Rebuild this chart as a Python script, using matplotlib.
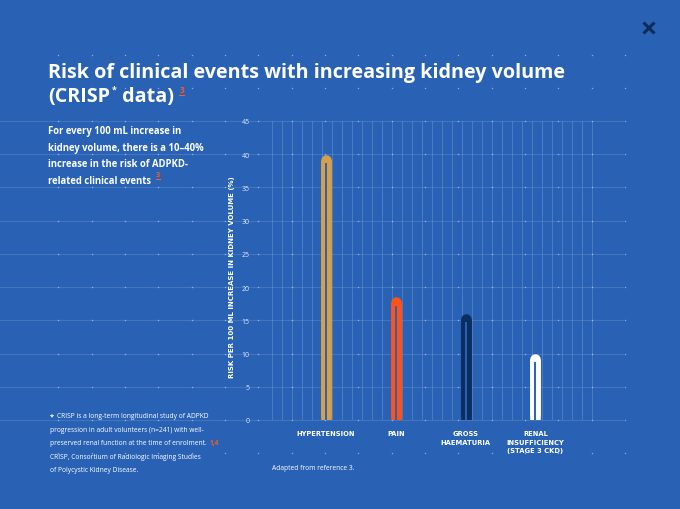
import numpy as np
import matplotlib
matplotlib.use("Agg")
import matplotlib.pyplot as plt

# data
categories = ["HYPERTENSION", "PAIN", "GROSS\nHAEMATURIA", "RENAL\nINSUFFICIENCY\n(STAGE 3 CKD)"]
risk = [40, 18.5, 16, 10]
bar_colors = ["#D6A049", "#FF5219", "#0C2D60", "#FFFFFF"]
yticks = [0, 5, 10, 15, 20, 25, 30, 35, 40, 45]

BG = "#2962B5"
ORANGE = "#FF5A1F"
W, H = 680, 510
FONT = ['Open Sans', 'DejaVu Sans']

plt.rcParams['font.family'] = FONT

fig = plt.figure(figsize=(6.8, 5.1), dpi=100, facecolor=BG)
renderer = fig.canvas.get_renderer()

# background layer in pixel coords (top-left origin)
bg = fig.add_axes([0, 0, 1, 1], zorder=0)
bg.set_xlim(0, W)
bg.set_ylim(H, 0)
bg.axis("off")
bg.set_facecolor(BG)


def fitted(x, y, s, width, size=10, **kw):
    # place text and scale its size so it spans `width` pixels
    t = bg.text(x, y, s, fontsize=size, va="baseline", **kw)
    w = t.get_window_extent(renderer).width
    t.set_fontsize(size * width / w)
    return t


def right_of(t, gap=0):
    return t.get_window_extent(renderer).x1 + gap


# dot grid
cols = 24.9 + 33.33 * np.arange(1, 19)
rows = 122 + 33.22 * np.arange(-2, 11)
gx, gy = np.meshgrid(cols, rows)
bg.scatter(gx.ravel(), gy.ravel(), s=1.1, color="#9db8e6", lw=0, alpha=0.8)

# close "X"
bg.plot([643.5, 654.5], [23.5, 34.5], color="#0E2C5A", lw=2.2, solid_capstyle="butt")
bg.plot([643.5, 654.5], [34.5, 23.5], color="#0E2C5A", lw=2.2, solid_capstyle="butt")

# title
t1 = fitted(48, 78, "Risk of clinical events with increasing kidney volume", 519,
            color="white", fontweight="bold")
tsize = t1.get_fontsize()
t2 = bg.text(48, 102, "(CRISP", color="white", fontsize=tsize, fontweight="bold",
             va="baseline")
t3 = bg.text(right_of(t2, 1.5), 93, "*", color="white", fontsize=tsize * 0.45,
             fontweight="bold", va="baseline")
t4 = bg.text(right_of(t3, 1), 102, " data)", color="white", fontsize=tsize,
             fontweight="bold", va="baseline")
x3 = right_of(t4, 5)
t5 = bg.text(x3, 93, "3", color=ORANGE, fontsize=tsize * 0.42, fontweight="bold",
             va="baseline")
bg.plot([x3, right_of(t5)], [95.5, 95.5], color=ORANGE, lw=0.8)

# intro paragraph
para = ["For every 100 mL increase in",
        "kidney volume, there is a 10\u201340%",
        "increase in the risk of ADPKD-",
        "related clinical events"]
p0 = fitted(48, 134, para[0], 135, color="white", fontweight="bold")
psize = p0.get_fontsize()
plines = [p0]
for k, line in enumerate(para[1:], start=1):
    plines.append(bg.text(48, 134 + 16.7 * k, line, color="white", fontsize=psize,
                          fontweight="bold", va="baseline"))
xp = right_of(plines[-1], 5)
ps = bg.text(xp, 177, "3", color=ORANGE, fontsize=psize * 0.75, fontweight="bold",
             va="baseline")
bg.plot([xp, right_of(ps)], [180, 180], color=ORANGE, lw=0.8)

# footnote
foot = ["CRISP is a long-term longitudinal study of ADPKD",
        "progression in adult volunteers (n=241) with well-",
        "preserved renal function at the time of enrolment.",
        "CRISP, Consortium of Radiologic Imaging Studies",
        "of Polycystic Kidney Disease."]
f0 = fitted(57, 418.3, foot[0], 152, color="white")
fsize = f0.get_fontsize()
bg.text(49.5, 418.3, "*", color="white", fontsize=fsize * 1.1, fontweight="bold",
        va="baseline")
flines = [f0]
for k, line in enumerate(foot[1:], start=1):
    flines.append(bg.text(50, 418.3 + 13.5 * k, line, color="white", fontsize=fsize,
                          va="baseline"))
bg.text(right_of(flines[2], 3), 445.3, "1,4", color=ORANGE, fontsize=fsize,
        fontweight="bold", va="baseline")

bg.text(272, 470.5, "Adapted from reference 3.", color="white", fontsize=fsize,
        va="baseline")

# chart axes
ax = fig.add_axes([258 / W, (H - 421) / H, 365 / W, 299 / H], zorder=1)
ax.patch.set_alpha(0)
for s in ax.spines.values():
    s.set_visible(False)

px_unit = 69.8  # pixels between categories
x = np.arange(len(categories))
ax.set_xlim((258 - 326) / px_unit, (623 - 326) / px_unit)
ax.set_ylim(0, 45)

# horizontal gridlines, extending to the left edge of the figure
for t in yticks:
    ax.plot([-258 / 365, 1.0], [t, t], transform=ax.get_yaxis_transform(),
            color="white", alpha=0.12, lw=0.8, clip_on=False, zorder=0)
# fine vertical gridlines
for gxp in np.arange(271.7, 592, 10):
    ax.axvline((gxp - 326) / px_unit, color="white", alpha=0.16, lw=0.7, zorder=0)

# bars: outlined capsule shapes (flat bottom, round top)
bar_w = 7.6  # points
r = (bar_w / 72 * 100) / 2 / (299 / 45)  # cap radius in data units
for i, (v, c) in enumerate(zip(risk, bar_colors)):
    ax.plot([x[i], x[i]], [0, v - r], color=c, lw=bar_w, solid_capstyle="butt", zorder=3)
    ax.plot([x[i], x[i]], [r, v - r], color=c, lw=bar_w, solid_capstyle="round", zorder=3)
    ax.plot([x[i], x[i]], [0, v - 1.3], color=BG, lw=1.4, solid_capstyle="butt", zorder=4)

ax.set_yticks(yticks)
ax.set_yticklabels([str(t) for t in yticks])
ax.tick_params(axis="y", length=0, pad=6, labelsize=5, labelcolor="#dfe8f7")
ax.set_xticks(x)
ax.set_xticklabels(categories, fontfamily="DejaVu Sans", fontweight="bold", fontsize=4.9,
                   color="white", linespacing=1.45)
ax.tick_params(axis="x", length=0, pad=7.5)

ax.set_ylabel("RISK PER 100 ML INCREASE IN KIDNEY VOLUME (%)", fontfamily="DejaVu Sans",
              fontweight="bold", fontsize=5, color="white")
ax.yaxis.set_label_coords(-0.063, 0.482)

fig.savefig("out.png", dpi=100, facecolor=BG)
